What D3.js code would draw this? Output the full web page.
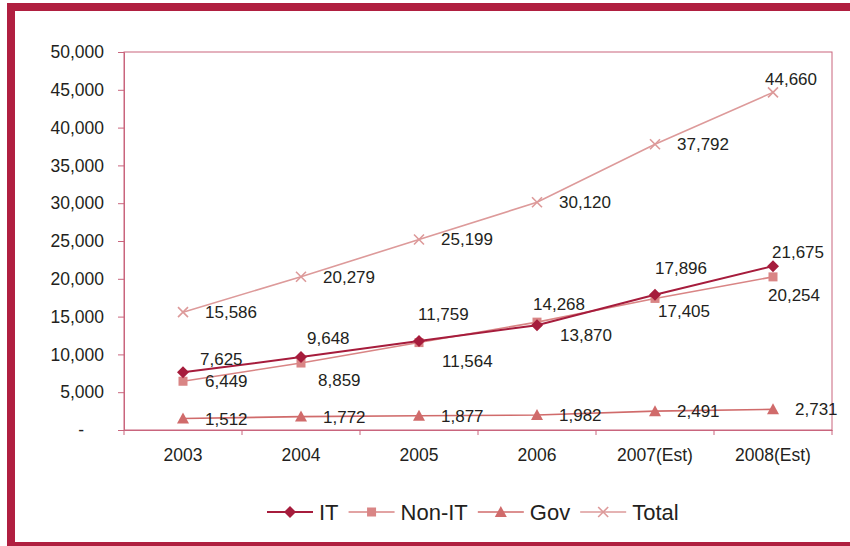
<!DOCTYPE html>
<html>
<head>
<meta charset="utf-8">
<script src="https://cdn.jsdelivr.net/npm/d3@7"></script>
<style>
  body { margin: 0; background: #fff; }
  text { font-family: "Liberation Sans", Arial, sans-serif; fill: #231f20; }
</style>
</head>
<body>
<div id="vis"></div>
<script>
// data
const YEARS = ["2003", "2004", "2005", "2006", "2007(Est)", "2008(Est)"];
const IT = [7625, 9648, 11759, 13870, 17896, 21675];
const NON_IT = [6449, 8859, 11564, 14268, 17405, 20254];
const GOV = [1512, 1772, 1877, 1982, 2491, 2731];
const TOTAL = [15586, 20279, 25199, 30120, 37792, 44660];
const Y_TICKS = [0, 5000, 10000, 15000, 20000, 25000, 30000, 35000, 40000, 45000, 50000];

// set constants
const FRAME_WIDTH = 850;
const FRAME_HEIGHT = 546;
const MARGINS = {left: 124, right: 18, top: 52, bottom: 116};
const VIS_WIDTH = FRAME_WIDTH - MARGINS.left - MARGINS.right;
const VIS_HEIGHT = FRAME_HEIGHT - MARGINS.top - MARGINS.bottom;

const AXIS_COLOR = "#c9657d";

// label nudges (dx, dy from point), per series
const R = [22, 0];
const SERIES = [
  {name: "IT", values: IT, color: "#a61c3c", width: 2, marker: "diamond",
   offs: [[17, -13], [6, -19], [-1, -27], [23, 10], [0, -27], [-1, -14]]},
  {name: "Non-IT", values: NON_IT, color: "#d98585", width: 1.6, marker: "square",
   offs: [R, [17, 17], [23, 18], [-4, -18], [3, 13], [-5, 18]]},
  {name: "Gov", values: GOV, color: "#d06b6b", width: 1.6, marker: "triangle",
   offs: [R, R, R, R, R, R]},
  {name: "Total", values: TOTAL, color: "#dd9a9a", width: 1.6, marker: "cross",
   offs: [R, R, R, R, R, [-8, -13]]}
];

const FRAME = d3.select("#vis")
  .append("svg")
    .attr("width", FRAME_WIDTH)
    .attr("height", FRAME_HEIGHT);

// outer border
FRAME.append("rect")
  .attr("x", 11).attr("y", 7)
  .attr("width", 870).attr("height", 539)
  .attr("fill", "none")
  .attr("stroke", "#b01f40")
  .attr("stroke-width", 8);

const G = FRAME.append("g")
  .attr("transform", "translate(" + MARGINS.left + "," + MARGINS.top + ")");

const X_SCALE = d3.scaleBand()
  .domain(YEARS)
  .range([0, VIS_WIDTH])
  .padding(0);

const Y_SCALE = d3.scaleLinear()
  .domain([0, 50000])
  .range([VIS_HEIGHT, 0]);

const xc = (i) => X_SCALE(YEARS[i]) + X_SCALE.bandwidth() / 2;

// plot frame
G.append("rect")
  .attr("width", VIS_WIDTH).attr("height", VIS_HEIGHT)
  .attr("fill", "none")
  .attr("stroke", AXIS_COLOR)
  .attr("stroke-width", 1);

// y axis
const fmt = d3.format(",");
const yAxis = G.append("g")
  .call(d3.axisLeft(Y_SCALE).tickValues(Y_TICKS).tickSize(6).tickPadding(14)
    .tickFormat((d) => d === 0 ? "-" : fmt(d)));
yAxis.select(".domain").attr("stroke", AXIS_COLOR);
yAxis.selectAll(".tick line").attr("stroke", AXIS_COLOR);
yAxis.selectAll(".tick text")
  .style("font-size", "17.5px")
  .attr("dx", (d) => d === 0 ? -20 : 0);

// x axis labels
const xAxis = G.append("g")
  .attr("transform", "translate(0," + VIS_HEIGHT + ")")
  .call(d3.axisBottom(X_SCALE).tickSize(0).tickPadding(19));
xAxis.select(".domain").attr("stroke", AXIS_COLOR);
xAxis.selectAll(".tick text").style("font-size", "17.5px");

// x tick marks at band edges
const edges = YEARS.map((d) => X_SCALE(d)).concat([VIS_WIDTH]);
G.append("g")
  .selectAll("line")
  .data(edges)
  .enter()
  .append("line")
    .attr("x1", (d) => d).attr("x2", (d) => d)
    .attr("y1", VIS_HEIGHT).attr("y2", VIS_HEIGHT + 5)
    .attr("stroke", AXIS_COLOR);

// marker drawing
function drawMarker(sel, type, color) {
  if (type === "diamond") {
    sel.append("path").attr("d", "M0,-6L6,0L0,6L-6,0Z").attr("fill", color);
  } else if (type === "square") {
    sel.append("rect").attr("x", -4.5).attr("y", -4.5).attr("width", 9).attr("height", 9)
      .attr("fill", color);
  } else if (type === "triangle") {
    sel.append("path").attr("d", "M0,-6L6,5L-6,5Z").attr("fill", color);
  } else {
    sel.append("path").attr("d", "M-5,-5L5,5M-5,5L5,-5")
      .attr("stroke", color).attr("stroke-width", 1.6).attr("fill", "none");
  }
}

// lines, markers (draw Total first so IT is on top)
const line = d3.line()
  .x((d, i) => xc(i))
  .y((d) => Y_SCALE(d));

SERIES.slice().reverse().forEach((s) => {
  G.append("path")
    .datum(s.values)
    .attr("d", line)
    .attr("fill", "none")
    .attr("stroke", s.color)
    .attr("stroke-width", s.width);

  s.values.forEach((v, i) => {
    const m = G.append("g")
      .attr("transform", "translate(" + xc(i) + "," + Y_SCALE(v) + ")");
    drawMarker(m, s.marker, s.color);
  });
});

// data labels
SERIES.forEach((s) => {
  G.append("g")
    .selectAll("text")
    .data(s.values)
    .enter()
    .append("text")
      .attr("x", (d, i) => xc(i) + s.offs[i][0])
      .attr("y", (d, i) => Y_SCALE(d) + s.offs[i][1])
      .attr("dy", "0.35em")
      .style("font-size", "17px")
      .text((d) => fmt(d));
});

// legend
const LEG_Y = 512;
let lx = 267;
SERIES.forEach((s) => {
  const lg = FRAME.append("g");
  lg.append("line")
    .attr("x1", lx).attr("x2", lx + 46)
    .attr("y1", LEG_Y).attr("y2", LEG_Y)
    .attr("stroke", s.color).attr("stroke-width", s.width);
  const m = lg.append("g").attr("transform", "translate(" + (lx + 23) + "," + LEG_Y + ")");
  drawMarker(m, s.marker, s.color);
  const t = lg.append("text")
    .attr("x", lx + 52)
    .attr("y", LEG_Y)
    .attr("dy", "0.35em")
    .style("font-size", "22px")
    .text(s.name);
  lx = lx + 52 + t.node().getComputedTextLength() + 10;
});
</script>
</body>
</html>
